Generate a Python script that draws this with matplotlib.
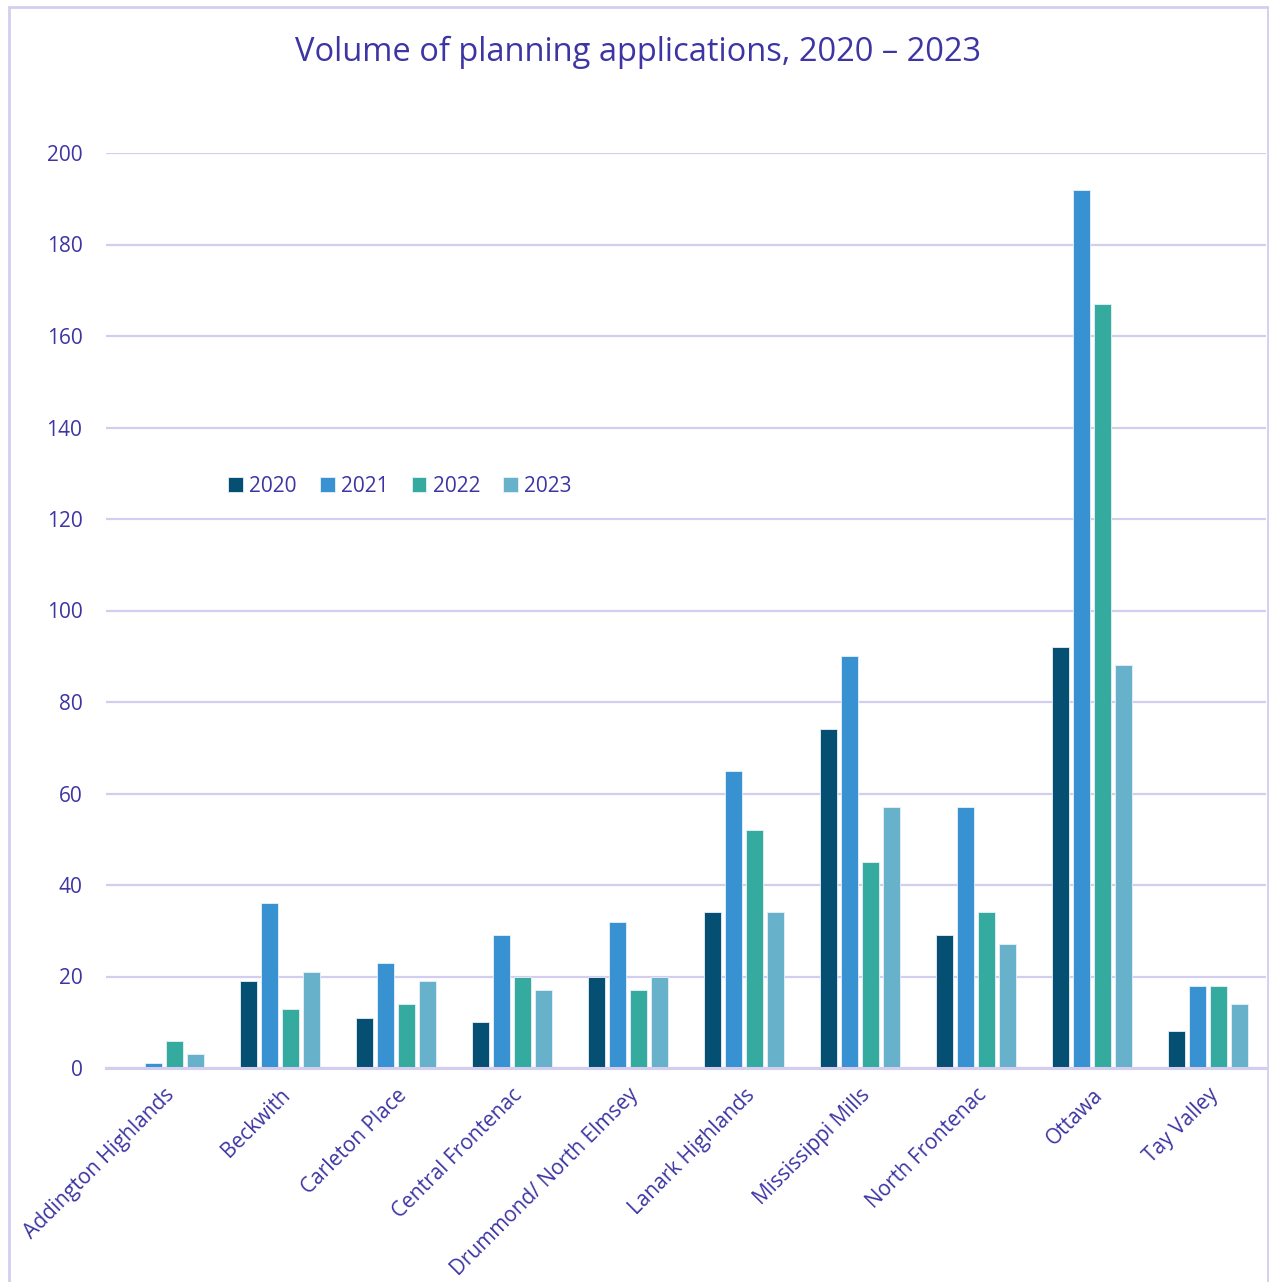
import matplotlib.pyplot as plt
import numpy as np
from matplotlib.patches import Rectangle

plt.rcParams['font.family'] = ['Open Sans', 'DejaVu Sans']

towns = ['Addington Highlands', 'Beckwith', 'Carleton Place', 'Central Frontenac',
         'Drummond/ North Elmsey', 'Lanark Highlands', 'Mississippi Mills',
         'North Frontenac', 'Ottawa', 'Tay Valley']
years = ['2020', '2021', '2022', '2023']
v2020 = [0, 19, 11, 10, 20, 34, 74, 29, 92, 8]
v2021 = [1, 36, 23, 29, 32, 65, 90, 57, 192, 18]
v2022 = [6, 13, 14, 20, 17, 52, 45, 34, 167, 18]
v2023 = [3, 21, 19, 17, 20, 34, 57, 27, 88, 14]
yticks = [0, 20, 40, 60, 80, 100, 120, 140, 160, 180, 200]

colors = ['#054F73', '#3891D0', '#35ABA0', '#67B2CA']
text_col = '#3C35A3'
grid_col = '#D3CEF0'

fig = plt.figure(figsize=(12.69, 12.82), dpi=100)
ax = fig.add_axes([106 / 1269, 1 - 1068 / 1282, 1160 / 1269, (1068 - 153) / 1282])

x = np.arange(len(towns))
step = 0.18
width = 0.146
for i, (vals, yr) in enumerate(zip([v2020, v2021, v2022, v2023], years)):
    ax.bar(x + (i - 1.5) * step, vals, width, color=colors[i], label=yr,
           edgecolor='#E8F1F8', linewidth=0.6, zorder=3)

ax.set_xlim(-0.5, len(towns) - 0.5)
ax.set_ylim(0, 200)
ax.set_yticks(yticks)
ax.yaxis.grid(True, color=grid_col, linewidth=1.6, zorder=0)
ax.set_axisbelow(True)
for s in ['top', 'right', 'left']:
    ax.spines[s].set_visible(False)
ax.spines['bottom'].set_color(grid_col)
ax.spines['bottom'].set_linewidth(2.2)
ax.spines['bottom'].set_zorder(4)
ax.tick_params(axis='y', length=0, pad=17, labelsize=15, labelcolor=text_col)
ax.tick_params(axis='x', length=0, pad=12, labelsize=15, labelcolor=text_col)
ax.set_xticks(x)
ax.set_xticklabels(towns, rotation=45, ha='right', va='top', rotation_mode='anchor')

fig.text(0.503, 1 - 52 / 1282, 'Volume of planning applications, 2020 \u2013 2023',
         ha='center', va='center', fontsize=23.5, color=text_col)

leg = ax.legend(loc='center left', bbox_to_anchor=(220 / 1269, 1 - 486 / 1282),
                bbox_transform=fig.transFigure, ncol=4, frameon=False,
                fontsize=15, handlelength=0.7, handleheight=0.7,
                handletextpad=0.3, columnspacing=1.12, borderaxespad=0)
for t in leg.get_texts():
    t.set_color(text_col)

fig.patches.append(Rectangle((9 / 1269, -0.1), 1259 / 1269, 1.1 - 7 / 1282,
                             transform=fig.transFigure, fill=False,
                             edgecolor=grid_col, linewidth=2))

fig.savefig('out.png', dpi=100)
